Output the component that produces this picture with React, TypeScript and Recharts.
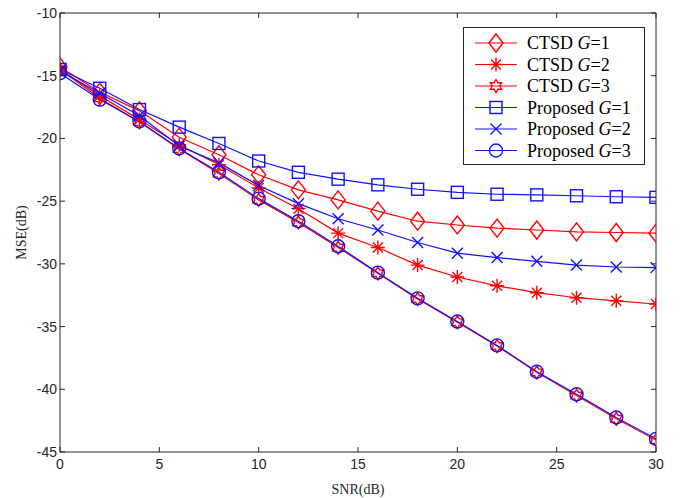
import { LineChart, Line, XAxis, YAxis, Legend } from 'recharts';

const SNR = [0, 2, 4, 6, 8, 10, 12, 14, 16, 18, 20, 22, 24, 26, 28, 30];
const X_TICKS = [0, 5, 10, 15, 20, 25, 30];
const Y_TICKS = [-45, -40, -35, -30, -25, -20, -15, -10];

const CTSD_G1 = [-14.3, -16.3, -17.8, -19.9, -21.3, -22.9, -24.1, -24.9, -25.8, -26.6, -26.9, -27.15, -27.3, -27.45, -27.5, -27.55];
const CTSD_G2 = [-14.5, -16.6, -18.5, -20.5, -22.1, -23.95, -25.6, -27.55, -28.7, -30.1, -31.05, -31.75, -32.3, -32.7, -32.95, -33.2];
const CTSD_G3 = [-14.5, -16.8, -18.7, -20.85, -22.8, -24.9, -26.7, -28.7, -30.75, -32.8, -34.65, -36.55, -38.65, -40.5, -42.35, -44.05];
const PROP_G1 = [-14.5, -16.0, -17.7, -19.1, -20.4, -21.8, -22.7, -23.25, -23.7, -24.05, -24.3, -24.45, -24.5, -24.57, -24.65, -24.7];
const PROP_G2 = [-14.6, -16.4, -18.2, -20.6, -21.95, -23.75, -25.2, -26.4, -27.3, -28.3, -29.15, -29.5, -29.8, -30.1, -30.25, -30.3];
const PROP_G3 = [-14.8, -16.9, -18.65, -20.8, -22.7, -24.8, -26.6, -28.6, -30.7, -32.75, -34.6, -36.5, -38.6, -40.4, -42.25, -43.95];

const RED = '#ff0000';
const BLUE = '#1010ff';
const AXIS = '#262626';
const SANS = '"Liberation Sans", Arial, Helvetica, sans-serif';
const SERIF = '"Liberation Serif", "Times New Roman", serif';

const SERIES = [
  { key: 'c1', method: 'CTSD', g: 1, values: CTSD_G1, color: RED, shape: 'diamond' },
  { key: 'c2', method: 'CTSD', g: 2, values: CTSD_G2, color: RED, shape: 'asterisk' },
  { key: 'c3', method: 'CTSD', g: 3, values: CTSD_G3, color: RED, shape: 'hexagram' },
  { key: 'p1', method: 'Proposed', g: 1, values: PROP_G1, color: BLUE, shape: 'square' },
  { key: 'p2', method: 'Proposed', g: 2, values: PROP_G2, color: BLUE, shape: 'x' },
  { key: 'p3', method: 'Proposed', g: 3, values: PROP_G3, color: BLUE, shape: 'circle' },
];

const data = SNR.map((snr, i) => {
  const row: any = { snr };
  SERIES.forEach((s) => (row[s.key] = s.values[i]));
  return row;
});

function Marker({ shape, cx, cy, color }: any) {
  const p = { fill: 'none', stroke: color, strokeWidth: 1.4 };
  if (shape === 'diamond') {
    return <polygon {...p} points={`${cx},${cy - 9} ${cx + 7},${cy} ${cx},${cy + 9} ${cx - 7},${cy}`} />;
  }
  if (shape === 'square') {
    return <rect {...p} x={cx - 6} y={cy - 6} width={12} height={12} />;
  }
  if (shape === 'circle') {
    return <circle {...p} cx={cx} cy={cy} r={6.5} />;
  }
  if (shape === 'x') {
    const d = 5.5;
    return <path {...p} d={`M${cx - d},${cy - d}L${cx + d},${cy + d}M${cx - d},${cy + d}L${cx + d},${cy - d}`} />;
  }
  if (shape === 'asterisk') {
    const r = 7;
    const d = 5;
    return (
      <path
        {...p}
        d={`M${cx},${cy - r}L${cx},${cy + r}M${cx - r},${cy}L${cx + r},${cy}M${cx - d},${cy - d}L${cx + d},${cy + d}M${cx - d},${cy + d}L${cx + d},${cy - d}`}
      />
    );
  }
  // hexagram
  const pts: string[] = [];
  for (let k = 0; k < 12; k++) {
    const a = -Math.PI / 2 + (k * Math.PI) / 6;
    const r = k % 2 === 0 ? 6.5 : 3.8;
    pts.push(`${cx + r * Math.cos(a)},${cy + r * Math.sin(a)}`);
  }
  return <polygon {...p} points={pts.join(' ')} />;
}

const dotFor = (shape: string, color: string) => (props: any) => {
  const { cx, cy, index } = props;
  return (
    <g key={`${shape}-${index}`}>
      <Marker shape={shape} cx={cx} cy={cy} color={color} />
    </g>
  );
};

const BottomTick = ({ x, y, payload }: any) => (
  <g>
    <line x1={x} y1={y} x2={x} y2={y - 5} stroke={AXIS} />
    <text x={x} y={y + 17} textAnchor="middle" fill={AXIS} fontSize={14} fontFamily={SANS}>
      {payload.value}
    </text>
  </g>
);

const TopTick = ({ x, y }: any) => <line x1={x} y1={y} x2={x} y2={y + 5} stroke={AXIS} />;

const LeftTick = ({ x, y, payload }: any) => (
  <g>
    <line x1={x} y1={y} x2={x + 5} y2={y} stroke={AXIS} />
    <text x={x - 3} y={y + 5} textAnchor="end" fill={AXIS} fontSize={14} fontFamily={SANS}>
      {payload.value}
    </text>
  </g>
);

const RightTick = ({ x, y }: any) => <line x1={x} y1={y} x2={x - 5} y2={y} stroke={AXIS} />;

const YTitle = ({ viewBox }: any) => {
  const cx = 21;
  const cy = viewBox.y + viewBox.height / 2;
  return (
    <text x={cx} y={cy} transform={`rotate(-90, ${cx}, ${cy})`} textAnchor="middle" dominantBaseline="central" fill={AXIS} fontSize={14} fontFamily={SERIF}>
      MSE(dB)
    </text>
  );
};

const XTitle = ({ viewBox }: any) => (
  <text x={viewBox.x + viewBox.width / 2} y={494} textAnchor="middle" fill={AXIS} fontSize={14} fontFamily={SERIF}>
    SNR(dB)
  </text>
);

const LegendBox = () => (
  <svg width={182} height={138} style={{ display: 'block' }}>
    <rect x={0.5} y={0.5} width={181} height={137} fill="#fff" stroke={AXIS} />
    {SERIES.map((s, i) => {
      const cy = 16 + i * 21.5;
      return (
        <g key={s.key}>
          <line x1={12} y1={cy} x2={54} y2={cy} stroke={s.color} strokeWidth={1.2} />
          <Marker shape={s.shape} cx={33} cy={cy} color={s.color} />
          <text x={64} y={cy + 6} fontSize={18} fontFamily={SERIF} fill="#000">
            {s.method} <tspan fontStyle="italic">G</tspan>={s.g}
          </text>
        </g>
      );
    })}
  </svg>
);

export default function App() {
  return (
    <div style={{ position: 'absolute', left: 0, top: 0, background: '#fff' }}>
      <LineChart width={682} height={498} data={data} margin={{ top: 0, right: 0, bottom: 0, left: 0 }}>
        <XAxis
          dataKey="snr"
          type="number"
          domain={[0, 30]}
          ticks={X_TICKS}
          allowDataOverflow
          height={46}
          tickSize={0}
          tickMargin={0}
          tick={<BottomTick />}
          axisLine={{ stroke: AXIS }}
          label={<XTitle />}
        />
        <XAxis
          xAxisId="t"
          orientation="top"
          dataKey="snr"
          type="number"
          domain={[0, 30]}
          ticks={X_TICKS}
          allowDataOverflow
          height={13}
          tickSize={0}
          tickMargin={0}
          tick={<TopTick />}
          axisLine={{ stroke: AXIS }}
        />
        <YAxis
          type="number"
          domain={[-45, -10]}
          ticks={Y_TICKS}
          allowDataOverflow
          width={60}
          tickSize={0}
          tickMargin={0}
          tick={<LeftTick />}
          axisLine={{ stroke: AXIS }}
          label={<YTitle />}
        />
        <YAxis
          yAxisId="r"
          orientation="right"
          type="number"
          domain={[-45, -10]}
          ticks={Y_TICKS}
          allowDataOverflow
          width={26}
          tickSize={0}
          tickMargin={0}
          tick={<RightTick />}
          axisLine={{ stroke: AXIS }}
        />
        {SERIES.map((s) => (
          <Line
            key={s.key}
            dataKey={s.key}
            stroke={s.color}
            strokeWidth={1.2}
            type="linear"
            dot={dotFor(s.shape, s.color)}
            activeDot={false}
            isAnimationActive={false}
          />
        ))}
        <Legend
          layout="vertical"
          align="center"
          verticalAlign="middle"
          content={<LegendBox />}
          wrapperStyle={{ position: 'absolute', left: 463, top: 27, width: 182, height: 138 }}
        />
      </LineChart>
    </div>
  );
}
